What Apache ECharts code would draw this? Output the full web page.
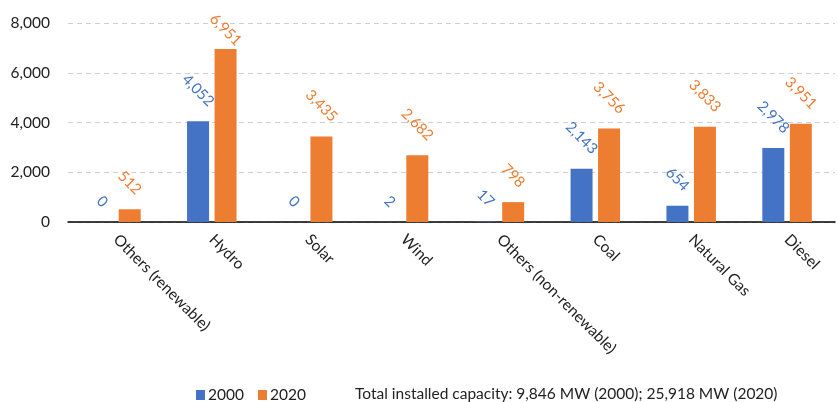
<!DOCTYPE html>
<html>
<head>
<meta charset="utf-8">
<script src="https://cdn.jsdelivr.net/npm/echarts@6/dist/echarts.min.js"></script>
<style>
  html, body {margin: 0; padding: 0; background: #fff;}
  #chart {width: 838px; height: 402px;}
</style>
</head>
<body>
<div id="chart"></div>
<script>
const categories = ['Others (renewable)', 'Hydro', 'Solar', 'Wind', 'Others (non-renewable)', 'Coal', 'Natural Gas', 'Diesel'];
const values2000 = [0, 4052, 0, 2, 17, 2143, 654, 2978];
const values2020 = [512, 6951, 3435, 2682, 798, 3756, 3833, 3951];
const yTicks = [0, 2000, 4000, 6000, 8000];
const note = 'Total installed capacity: 9,846 MW (2000); 25,918 MW (2020)';

const font = 'Lato, "Open Sans", sans-serif';
const labelSize = 15;
const fmt = v => Number(v).toLocaleString('en-US');

// measure label text so the rotated label sits centred above its bar
const ctx = document.createElement('canvas').getContext('2d');
ctx.font = labelSize + 'px Lato';
const halfBox = v => (ctx.measureText(fmt(v)).width + 12) * 0.7071 / 2;

const chart = echarts.init(document.getElementById('chart'));

function build(values, color, topY) {
    return values.map((v, i) => {
        let d = halfBox(v) + 13;
        if (topY) d = Math.min(d, topY[i] - 12 - halfBox(v));
        return {value: v, label: {distance: d}};
    });
}

const valueLabel = color => ({
    show: true,
    position: 'top',
    rotate: -45,
    align: 'center',
    verticalAlign: 'middle',
    color: color,
    fontFamily: font,
    fontSize: labelSize,
    formatter: p => fmt(p.value)
});

chart.setOption({
    animation: false,
    textStyle: {fontFamily: font},
    grid: {left: 68, right: 3, top: 23, bottom: 180},
    legend: {
        left: 191, top: 382,
        itemWidth: 9, itemHeight: 10, itemGap: 14,
        icon: 'rect',
        textStyle: {fontFamily: font, fontSize: 15.5, color: '#222', padding: [0, 0, 0, -2]},
        data: ['2000', '2020']
    },
    title: {
        text: note, left: 350, top: 381,
        textStyle: {fontFamily: font, fontSize: 15.5, fontWeight: 'normal', color: '#222'}
    },
    xAxis: {
        type: 'category',
        data: categories,
        axisLine: {lineStyle: {color: '#000', width: 1.5}},
        axisTick: {show: false},
        axisLabel: {rotate: -45, interval: 0, margin: 15, fontSize: 15.5, color: '#222', fontFamily: font}
    },
    yAxis: {
        type: 'value',
        min: yTicks[0], max: yTicks[yTicks.length - 1], interval: 2000,
        axisLine: {show: false},
        axisTick: {show: false},
        axisLabel: {margin: 18, fontSize: 15.5, color: '#222', fontFamily: font, formatter: v => fmt(v)},
        splitLine: {lineStyle: {color: '#d0d0d0', type: [5, 4], width: 1.2}}
    },
    series: [
        {
            name: '2000', type: 'bar', data: build(values2000),
            barWidth: 22, barGap: '25%',
            itemStyle: {color: '#4472C4'},
            label: valueLabel('#4472C4')
        },
        {
            name: '2020', type: 'bar', data: build(values2020),
            barWidth: 22,
            itemStyle: {color: '#ED7D31'},
            label: valueLabel('#ED7D31')
        }
    ]
});

// keep labels of tall bars inside the chart, as the original does
const tops = vals => vals.map(v => chart.convertToPixel({gridIndex: 0}, [0, v])[1]);
chart.setOption({
    series: [
        {data: build(values2000, '#4472C4', tops(values2000))},
        {data: build(values2020, '#ED7D31', tops(values2020))}
    ]
});
</script>
</body>
</html>
